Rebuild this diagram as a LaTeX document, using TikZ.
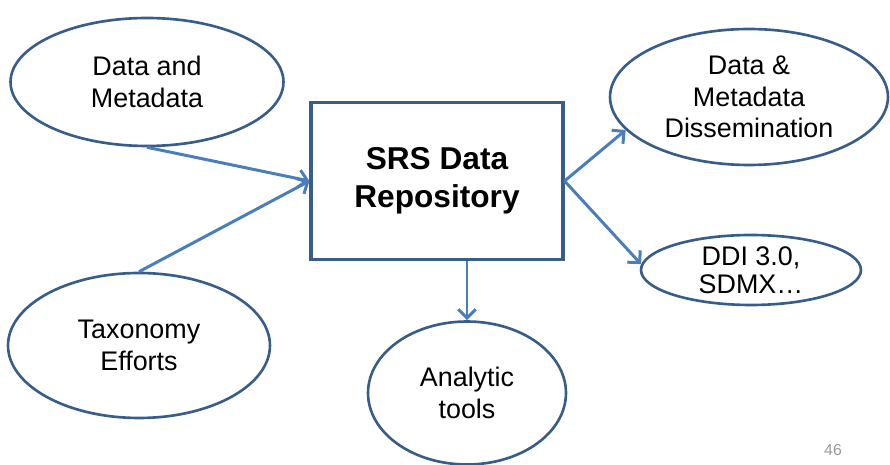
\documentclass[tikz,border=0pt]{standalone}
\usepackage{fontspec}
\setmainfont{Liberation Sans}
\usetikzlibrary{shapes.geometric,arrows.meta}

\definecolor{shapeline}{HTML}{385D8A}
\definecolor{arrowblue}{HTML}{4A7EBB}

\tikzset{
  oval/.style={ellipse, draw=shapeline, line width=1.5pt, inner sep=0pt, align=center,
    font=\fontsize{15.3}{18}\selectfont},
  repobox/.style={rectangle, draw=shapeline, line width=1.8pt, align=center,
    font=\bfseries\fontsize{18}{21.5}\selectfont},
  link/.style={draw=arrowblue, line width=1.7pt, -{Straight Barb[length=5pt,width=10pt]}}
}

\begin{document}
\begin{tikzpicture}[x=0.02cm,y=-0.02cm]
  \useasboundingbox (0,0) rectangle (890,465);
  % centre box
  \node[repobox, minimum width=5.04cm, minimum height=3.14cm] (repo) at (437,181) {SRS Data\\Repository};
  % inputs
  \node[oval, minimum width=5.46cm, minimum height=2.56cm] (data) at (147,82) {Data and\\Metadata};
  \node[oval, minimum width=5.24cm, minimum height=2.9cm] (taxo) at (139,345.5) {Taxonomy\\Efforts};
  % outputs
  \node[oval, minimum width=3.96cm, minimum height=2.86cm] (tools) at (467,393) {Analytic\\tools};
  \node[oval, minimum width=5.56cm, minimum height=2.72cm] (dissem) at (749,97) {Data \&\\Metadata\\Dissemination};
  \node[oval, minimum width=4.4cm, minimum height=1.4cm, font=\fontsize{15.3}{16}\selectfont] (ddi) at (751,270) {DDI 3.0,\\SDMX\dots};
  \node[text=gray!80, font=\fontsize{9}{10}\selectfont] (page) at (833,450) {46};
  %
  \draw[link] (data.south) -- (repo.west);
  \draw[link] (taxo.north) -- (repo.west);
  \draw[link] (repo.east) -- (dissem.195);
  \draw[link] (repo.east) -- (ddi.177);
  \draw[link] (tools.north |- repo.south) -- (tools.north);
\end{tikzpicture}
\end{document}
